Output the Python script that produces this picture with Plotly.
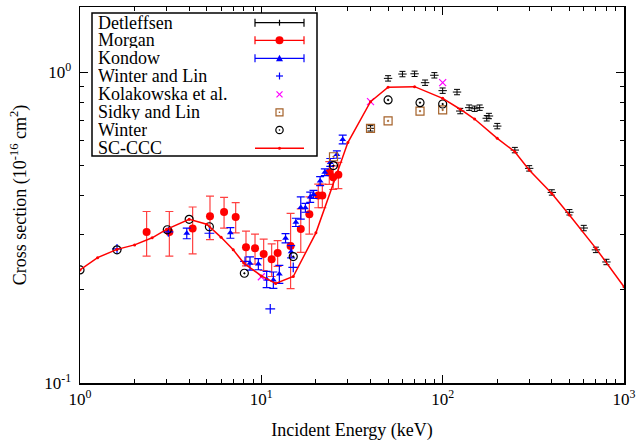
import plotly.graph_objects as go

# ---------------- data ----------------
det_E = [40, 50, 60, 70, 80, 90, 100, 120, 125, 140, 150, 160, 175, 180, 200, 250, 300, 400, 500, 600, 700, 800]
det_s = [0.659, 0.954, 0.985, 0.987, 0.924, 0.976, 0.871, 0.862, 0.749, 0.768, 0.762, 0.768, 0.710, 0.722, 0.670, 0.561, 0.490, 0.410, 0.354, 0.315, 0.268, 0.245]
det_err = [round(v * 0.02, 4) for v in det_s]

mor_E = [2.33, 3.11, 4.18, 5.21, 6.23, 7.22, 8.23, 9.23, 10.3, 11.4, 12.3, 14.5, 16.5, 18.4, 20.6, 21.7, 23.7, 24.9, 26.6]
mor_s = [0.306, 0.306, 0.314, 0.344, 0.355, 0.342, 0.273, 0.271, 0.260, 0.250, 0.262, 0.276, 0.313, 0.349, 0.401, 0.401, 0.475, 0.459, 0.467]
mor_err = [0.050, 0.050, 0.054, 0.055, 0.040, 0.038, 0.035, 0.030, 0.030, 0.030, 0.025, 0.075, 0.050, 0.048, 0.035, 0.035, 0.040, 0.040, 0.045]

kon_E = [3.88, 6.75, 8.66, 9.63, 10.7, 11.65, 12.57, 13.6, 14.6, 15.5, 16.5, 17.5, 18.6, 19.4, 21.1, 22.4, 24.0, 26.1, 28.1]
kon_s = [0.303, 0.304, 0.2426, 0.2413, 0.2156, 0.2145, 0.224, 0.292, 0.2645, 0.3286, 0.3666, 0.366, 0.396, 0.404, 0.446, 0.476, 0.512, 0.543, 0.607]
kon_err = [0.012, 0.012, 0.012, 0.010, 0.013, 0.013, 0.015, 0.010, 0.012, 0.010, 0.030, 0.012, 0.015, 0.012, 0.015, 0.012, 0.015, 0.015, 0.020]

wl_E = [1.6, 3.07, 5.17, 8.13, 11.2, 15.0]
wl_s = [0.270, 0.306, 0.303, 0.246, 0.173, 0.2355]

kol_E = [10, 40, 100]
kol_s = [0.2196, 0.803, 0.924]

sid_E = [25, 40, 50, 75, 100]
sid_s = [0.534, 0.659, 0.696, 0.749, 0.755]

win_E = [1.0, 1.6, 3.03, 4.0, 5.17, 8.06, 15.0, 25.0, 50.0, 75.0, 100.0]
win_s = [0.231, 0.268, 0.311, 0.336, 0.318, 0.2254, 0.255, 0.500, 0.813, 0.797, 0.789]

ccc_E = [1, 1.25, 1.6, 2, 2.5, 3, 4, 5, 6, 7, 8, 10, 12, 15, 20, 30, 40, 50, 70, 100, 125, 150, 200, 250, 300, 400, 500, 700, 1000]
ccc_s = [0.231, 0.253, 0.269, 0.278, 0.293, 0.312, 0.336, 0.324, 0.294, 0.268, 0.243, 0.221, 0.209, 0.220, 0.304, 0.593, 0.803, 0.893, 0.897, 0.823, 0.759, 0.706, 0.612, 0.554, 0.484, 0.407, 0.347, 0.271, 0.204]

legend_names = ["Detleffsen", "Morgan", "Kondow", "Winter and Lin",
                "Kolakowska et al.", "Sidky and Lin", "Winter", "SC-CCC"]

x_tickvals = [1, 10, 100, 1000]
x_ticktext = ["10<sup>0</sup>", "10<sup>1</sup>", "10<sup>2</sup>", "10<sup>3</sup>"]
y_tickvals = [0.1, 1]
y_ticktext = ["10<sup>-1</sup>", "10<sup>0</sup>"]

FONT = "Liberation Serif, Times New Roman, serif"
RED = "#ff0000"
BLUE = "#0000ff"
MAG = "#ff00ff"
BROWN = "#a5622a"

W, H = 637, 442
ML, MR, MT, MB = 80, 13, 7, 59
PW, PH = W - ML - MR, H - MT - MB

fig = go.Figure()

fig.add_trace(go.Scatter(
    x=det_E, y=det_s, mode="markers", name=legend_names[0],
    marker=dict(symbol="line-ew", size=6, line=dict(color="black", width=1)),
    error_y=dict(type="data", array=det_err, color="black", thickness=1, width=3),
))
fig.add_trace(go.Scatter(
    x=mor_E, y=mor_s, mode="markers", name=legend_names[1],
    marker=dict(symbol="circle", size=8, color=RED),
    error_y=dict(type="data", array=mor_err, color="rgba(255,0,0,0.75)", thickness=1.2, width=4),
))
fig.add_trace(go.Scatter(
    x=kon_E, y=kon_s, mode="markers", name=legend_names[2],
    marker=dict(symbol="triangle-up", size=6, color=BLUE),
    error_y=dict(type="data", array=kon_err, color=BLUE, thickness=1.2, width=4),
))
fig.add_trace(go.Scatter(
    x=wl_E, y=wl_s, mode="markers", name=legend_names[3],
    marker=dict(symbol="cross-thin", size=7, line=dict(color=BLUE, width=1.2)),
))
fig.add_trace(go.Scatter(
    x=kol_E, y=kol_s, mode="markers", name=legend_names[4],
    marker=dict(symbol="x-thin", size=7, line=dict(color=MAG, width=1.2)),
))
fig.add_trace(go.Scatter(
    x=sid_E, y=sid_s, mode="markers", name=legend_names[5],
    marker=dict(symbol="square-dot", size=8, color="rgba(0,0,0,0)",
                line=dict(color=BROWN, width=1.2)),
))
fig.add_trace(go.Scatter(
    x=win_E, y=win_s, mode="markers", name=legend_names[6],
    marker=dict(symbol="circle-dot", size=8, color="rgba(0,0,0,0)",
                line=dict(color="black", width=1.2)),
))
fig.add_trace(go.Scatter(
    x=ccc_E, y=ccc_s, mode="lines+markers", name=legend_names[7],
    line=dict(color=RED, width=1.5),
    marker=dict(symbol="circle", size=3, color=RED),
))

# ---------------- custom gnuplot-style key (text left, sample right) ----------------
def px(xp):
    return (xp - ML) / PW

def py(yp):
    return (H - MB - yp) / PH

shapes = []
annotations = []

def seg(x0, y0, x1, y1, color, width=1.2):
    shapes.append(dict(type="line", xref="paper", yref="paper",
                       x0=px(x0), y0=py(y0), x1=px(x1), y1=py(y1),
                       line=dict(color=color, width=width), layer="above"))

# key box
shapes.append(dict(type="rect", xref="paper", yref="paper",
                   x0=px(92), x1=px(317), y0=py(156), y1=py(13),
                   fillcolor="white", line=dict(color="black", width=1.5), layer="above"))

row_y = [22.7, 40.3, 58.3, 76.0, 94.3, 112.3, 130.0, 148.3]
sx0, sx1, sxc = 255, 304, 279.5
for name, yy in zip(legend_names, row_y):
    annotations.append(dict(xref="paper", yref="paper", x=px(97), y=py(yy),
                            xanchor="left", yanchor="middle", showarrow=False,
                            height=16, valign="middle", borderpad=0,
                            text=name, font=dict(family=FONT, size=18, color="black")))

def errbar_sample(yy, color):
    seg(sx0, yy, sx1, yy, color)
    seg(sx0, yy - 4, sx0, yy + 4, color)
    seg(sx1, yy - 4, sx1, yy + 4, color)

# Detleffsen
errbar_sample(row_y[0], "black")
seg(sxc, row_y[0] - 3, sxc, row_y[0] + 3, "black")
# Morgan
errbar_sample(row_y[1], RED)
shapes.append(dict(type="circle", xref="paper", yref="paper",
                   x0=px(sxc - 4), x1=px(sxc + 4), y0=py(row_y[1] + 4), y1=py(row_y[1] - 4),
                   fillcolor=RED, line=dict(color=RED, width=0), layer="above"))
# Kondow
errbar_sample(row_y[2], BLUE)
yy = row_y[2]
shapes.append(dict(type="path", xref="paper", yref="paper",
                   path="M {:.5f},{:.5f} L {:.5f},{:.5f} L {:.5f},{:.5f} Z".format(
                       px(sxc - 3.5), py(yy + 3), px(sxc + 3.5), py(yy + 3), px(sxc), py(yy - 3.5)),
                   fillcolor=BLUE, line=dict(color=BLUE, width=0), layer="above"))
# Winter and Lin
yy = row_y[3]
seg(sxc - 3.5, yy, sxc + 3.5, yy, BLUE)
seg(sxc, yy - 3.5, sxc, yy + 3.5, BLUE)
# Kolakowska
yy = row_y[4]
seg(sxc - 3, yy - 3, sxc + 3, yy + 3, MAG)
seg(sxc - 3, yy + 3, sxc + 3, yy - 3, MAG)
# Sidky and Lin
yy = row_y[5]
shapes.append(dict(type="rect", xref="paper", yref="paper",
                   x0=px(sxc - 3.5), x1=px(sxc + 3.5), y0=py(yy + 3.5), y1=py(yy - 3.5),
                   line=dict(color=BROWN, width=1.2), layer="above"))
shapes.append(dict(type="rect", xref="paper", yref="paper",
                   x0=px(sxc - 0.7), x1=px(sxc + 0.7), y0=py(yy + 0.7), y1=py(yy - 0.7),
                   fillcolor=BROWN, line=dict(color=BROWN, width=0), layer="above"))
# Winter
yy = row_y[6]
shapes.append(dict(type="circle", xref="paper", yref="paper",
                   x0=px(sxc - 3.7), x1=px(sxc + 3.7), y0=py(yy + 3.7), y1=py(yy - 3.7),
                   line=dict(color="black", width=1.2), layer="above"))
shapes.append(dict(type="circle", xref="paper", yref="paper",
                   x0=px(sxc - 0.8), x1=px(sxc + 0.8), y0=py(yy + 0.8), y1=py(yy - 0.8),
                   fillcolor="black", line=dict(color="black", width=0), layer="above"))
# SC-CCC
yy = row_y[7]
seg(sx0, yy, sx1, yy, RED, 1.5)
shapes.append(dict(type="circle", xref="paper", yref="paper",
                   x0=px(sxc - 1.5), x1=px(sxc + 1.5), y0=py(yy + 1.5), y1=py(yy - 1.5),
                   fillcolor=RED, line=dict(color=RED, width=0), layer="above"))

axis_common = dict(
    type="log", showgrid=False, zeroline=False, automargin=False,
    showline=True, linecolor="black", linewidth=1.5, mirror="allticks",
    ticks="inside", ticklen=8, tickwidth=1, tickcolor="black",
    ticklabeloverflow="allow",
    tickfont=dict(family=FONT, size=17, color="black"),
)

fig.update_xaxes(
    **axis_common,
    range=[0, 3],
    tickvals=x_tickvals, ticktext=x_ticktext,
    minor=dict(ticks="inside", ticklen=4, tickcolor="black", tickwidth=1,
               tickvals=[m * d for d in [1, 10, 100] for m in range(2, 10)]),
    title=dict(text="Incident Energy (keV)", font=dict(family=FONT, size=18, color="black"), standoff=15),
)
fig.update_yaxes(
    **axis_common,
    range=[-1, 0.209],
    tickvals=y_tickvals, ticktext=y_ticktext,
    ticklabelstandoff=4,
    minor=dict(ticks="inside", ticklen=4, tickcolor="black", tickwidth=1,
               tickvals=[m * 0.1 for m in range(2, 10)] + [m for m in range(2, 10)]),
    title=dict(text="Cross section (10<sup>-16</sup> cm<sup>2</sup>)",
               font=dict(family=FONT, size=18, color="black"), standoff=13),
)

fig.update_layout(
    width=W, height=H,
    margin=dict(l=ML, r=MR, t=MT, b=MB, autoexpand=False),
    paper_bgcolor="white", plot_bgcolor="white",
    font=dict(family=FONT, size=15, color="black"),
    showlegend=False,
    hovermode=False,
    shapes=shapes,
    annotations=annotations,
)

# remove the default page margin so the 637x442 figure fills the window exactly
fig.write_html("out.html",
               config={"displayModeBar": False, "staticPlot": True},
               post_script="document.body.style.margin='0';document.body.style.overflow='hidden';")
